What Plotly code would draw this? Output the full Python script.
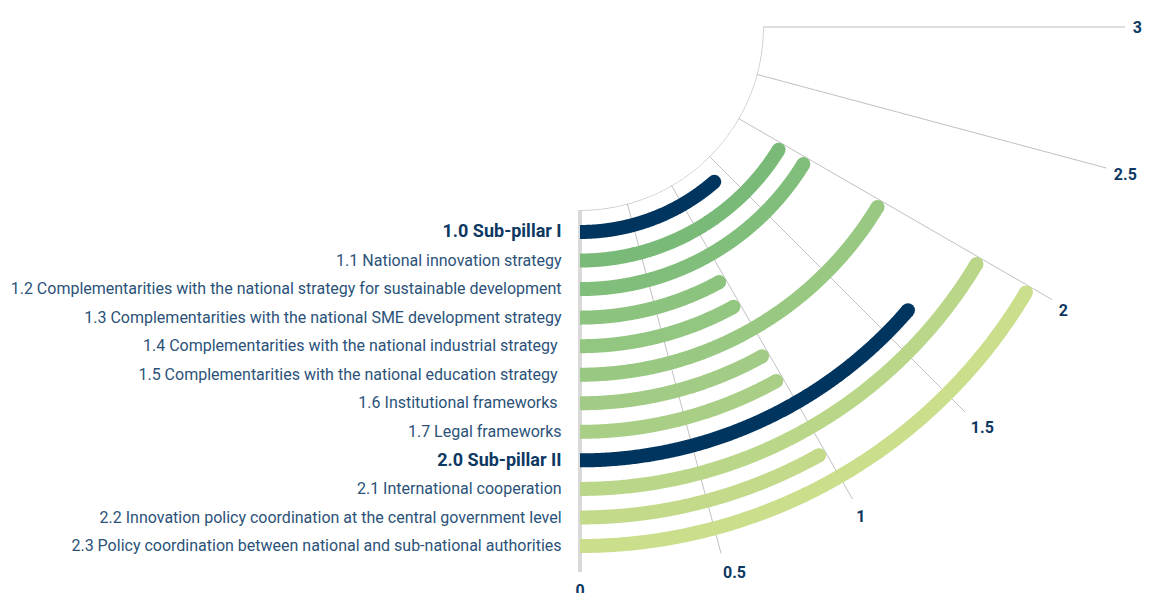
import math
import numpy as np
import plotly.graph_objects as go

# Sub-pillar and indicator scores (scale 0-3)
labels = [
    "1.0 Sub-pillar I",
    "1.1 National innovation strategy",
    "1.2 Complementarities with the national strategy for sustainable development",
    "1.3 Complementarities with the national SME development strategy",
    "1.4 Complementarities with the national industrial strategy ",
    "1.5 Complementarities with the national education strategy ",
    "1.6 Institutional frameworks ",
    "1.7 Legal frameworks",
    "2.0 Sub-pillar II",
    "2.1 International cooperation",
    "2.2 Innovation policy coordination at the central government level",
    "2.3 Policy coordination between national and sub-national authorities",
]
values = [1.43, 2, 2, 1, 1, 2, 1, 1, 1.67, 2, 1, 2]
is_subpillar = [True, False, False, False, False, False, False, False, True, False, False, False]
colors = [
    "#00355f", "#7aba78", "#81be7b", "#8cc37f", "#93c681", "#98c882",
    "#a2cb85", "#a9ce86", "#00355f", "#b9d689", "#c2da8a", "#cade8c",
]
tick_values = [0, 0.5, 1, 1.5, 2, 2.5, 3]
tick_text = ["0", "0.5", "1", "1.5", "2", "2.5", "3"]

SCALE_MAX = 3.0
SWEEP_DEG = 90.0
NAVY = "#0d3862"
TEXT = "#2b5279"

W, H = 1149, 593
CX, CY = 580, 27          # pole of the gauge, pixels from top-left
OUTER_PX, HOLE_PX = 545, 183


def to_deg(v):
    return [float(x) * SWEEP_DEG / SCALE_MAX for x in v]


idx = list(range(len(labels)))
r_min, r_max = -0.77, 11.91
bar_width = 14


def radius_px(r):
    return HOLE_PX + (r - r_min) / (r_max - r_min) * (OUTER_PX - HOLE_PX)


fig = go.Figure()

# inner boundary arc of the gauge
arc = np.linspace(0, SWEEP_DEG, 200).tolist()
fig.add_trace(go.Scatterpolar(
    r=[r_min + 0.01] * len(arc), theta=arc, mode="lines",
    line=dict(color="#c4c4c4", width=1), hoverinfo="skip", showlegend=False,
    cliponaxis=False,
))

# one arc per indicator, sweeping from 0 to its score; the round cap
# is kept inside the score so the outer edge of the cap sits on the value
value_deg = to_deg(values)
end_deg = [
    d - math.degrees((bar_width / 2) / radius_px(i))
    for i, d in enumerate(value_deg)
]
for i, (d, c) in enumerate(zip(end_deg, colors)):
    th = np.linspace(0, d, 240).tolist()
    fig.add_trace(go.Scatterpolar(
        r=[i] * len(th), theta=th, mode="lines",
        line=dict(color=c, width=bar_width), hoverinfo="skip", showlegend=False,
    ))

# rounded ends of the arcs
fig.add_trace(go.Scatterpolar(
    r=idx, theta=end_deg, mode="markers",
    marker=dict(color=colors, size=bar_width, line=dict(width=0)),
    hoverinfo="skip", showlegend=False,
))

tick_labels = [
    f"<b><span style='color:{NAVY};font-size:18px'>{t}</span></b>" if sp else t
    for t, sp in zip(labels, is_subpillar)
]

# for a 270-360 sector plotly lays the angular ticks out on the 360-450 turn
angular_ticks = [360 + d for d in to_deg(tick_values)]

fig.update_layout(
    width=W, height=H,
    margin=dict(l=0, r=0, t=0, b=0),
    paper_bgcolor="white",
    font=dict(family="Roboto", color=TEXT),
    showlegend=False,
    polar=dict(
        domain=dict(
            x=[CX / W, (CX + OUTER_PX) / W],
            y=[(H - CY - OUTER_PX) / H, (H - CY) / H],
        ),
        sector=[270, 360],
        hole=HOLE_PX / OUTER_PX,
        bgcolor="rgba(0,0,0,0)",
        angularaxis=dict(
            rotation=270, direction="counterclockwise", thetaunit="degrees",
            tickmode="array", tickvals=angular_ticks, ticktext=tick_text,
            showline=False, showgrid=True, gridcolor="rgba(140,140,140,0.55)",
            gridwidth=1, ticks="outside", ticklen=4, tickcolor="rgba(0,0,0,0)",
            layer="above traces",
            tickfont=dict(family="Roboto", size=16, color=NAVY, weight="bold"),
        ),
        radialaxis=dict(
            range=[r_min, r_max], angle=270, side="clockwise",
            tickmode="array", tickvals=idx, ticktext=tick_labels, tickangle=270,
            showgrid=False, showline=True, linecolor="#d9d9d9", linewidth=4,
            ticks="outside", ticklen=10, tickcolor="rgba(0,0,0,0)",
            tickfont=dict(family="Roboto", size=16, color=TEXT),
            layer="below traces",
        ),
    ),
)

fig.write_html("out.html")
